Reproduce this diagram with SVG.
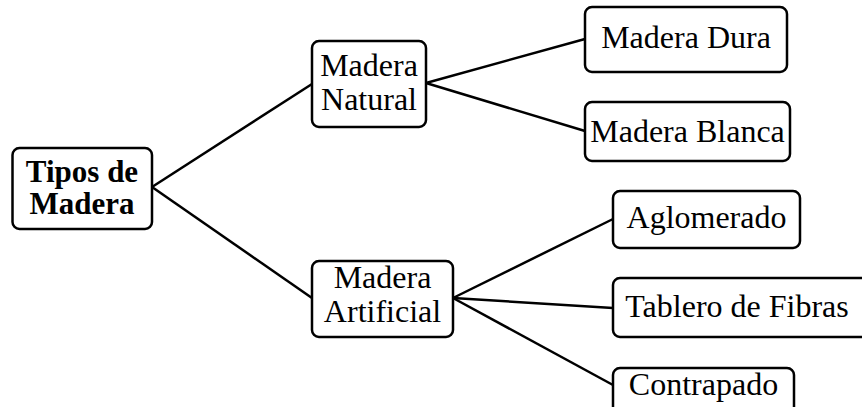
<svg xmlns="http://www.w3.org/2000/svg" width="862" height="407" viewBox="0 0 862 407">
<style>
.box{fill:#fff;stroke:#000;stroke-width:2.5}
.t{font-family:"Liberation Serif","Times New Roman",serif;font-size:32px;fill:#000;text-anchor:middle}
.b{font-weight:bold;font-size:31px}
.c{stroke:#000;stroke-width:2.5;fill:none}
</style>
<rect width="862" height="407" fill="#fff"/>
<g id="connectors">
<line class="c" x1="152" y1="187" x2="312" y2="84"/>
<line class="c" x1="152" y1="187" x2="312" y2="298"/>
<line class="c" x1="426" y1="83" x2="585" y2="39"/>
<line class="c" x1="426" y1="83" x2="585" y2="131"/>
<line class="c" x1="453" y1="298" x2="613" y2="219"/>
<line class="c" x1="453" y1="298" x2="613" y2="308"/>
<line class="c" x1="453" y1="298" x2="613" y2="385"/>
</g>
<g id="root">
<rect class="box" x="12.5" y="148" width="139.5" height="81" rx="7"/>
<text class="t b" x="82" y="182">Tipos de</text>
<text class="t b" x="82" y="214">Madera</text>
</g>
<g id="natural">
<rect class="box" x="312" y="41" width="114" height="86" rx="7"/>
<text class="t" x="369" y="76">Madera</text>
<text class="t" x="369" y="110">Natural</text>
</g>
<g id="artificial">
<rect class="box" x="312" y="261" width="141" height="76" rx="7"/>
<text class="t" x="382.5" y="288">Madera</text>
<text class="t" x="382.5" y="322">Artificial</text>
</g>
<g id="dura">
<rect class="box" x="585" y="7" width="202" height="65" rx="7"/>
<text class="t" x="686" y="48">Madera Dura</text>
</g>
<g id="blanca">
<rect class="box" x="585" y="102" width="205" height="59" rx="7"/>
<text class="t" x="687.5" y="142">Madera Blanca</text>
</g>
<g id="aglomerado">
<rect class="box" x="613" y="191" width="187" height="57" rx="7"/>
<text class="t" x="706.5" y="228">Aglomerado</text>
</g>
<g id="tablero">
<rect class="box" x="613" y="278" width="255" height="59" rx="7"/>
<text class="t" x="737" y="317">Tablero de Fibras</text>
</g>
<g id="contrapado">
<rect class="box" x="613" y="368" width="181" height="50" rx="7"/>
<text class="t" x="703.5" y="395">Contrapado</text>
</g>
</svg>
